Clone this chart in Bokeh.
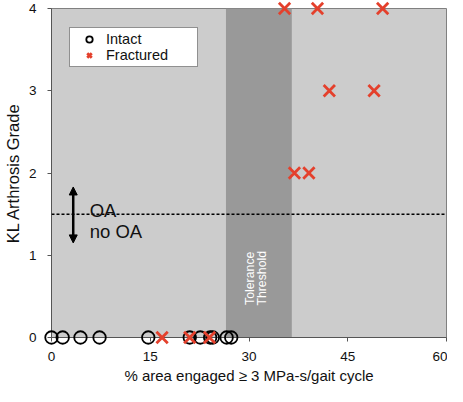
import math
from bokeh.plotting import figure
from bokeh.models import (BoxAnnotation, Span, Label, Arrow, NormalHead, Legend,
                          LegendItem, Range1d, FixedTicker)
from bokeh.embed import file_html
from bokeh.resources import INLINE

# ---- data ----
intact_x = [0, 1.7, 4.4, 7.3, 14.7, 21.0, 22.6, 24.1, 24.5, 26.6, 27.3]
intact_y = [0] * len(intact_x)
fractured_x = [16.8, 21.0, 24.0, 36.9, 39.1, 42.2, 49.0, 35.4, 40.4, 50.3]
fractured_y = [0, 0, 0, 2, 2, 3, 3, 4, 4, 4]
x_ticks = [0, 15, 30, 45, 60]
y_ticks = [0, 1, 2, 3, 4]
threshold_band = (26.5, 36.5)
oa_cutoff = 1.5

FONT = "Liberation Sans"
RED = "#e4402c"

p = figure(width=447, height=386, output_backend="svg", toolbar_location=None,
           x_range=Range1d(0, 60), y_range=Range1d(0, 4),
           min_border_left=48, min_border_right=1, min_border_top=8, min_border_bottom=0)
p.background_fill_color = "#cccccc"
p.border_fill_color = "white"
p.outline_line_color = "#808080"
p.outline_line_width = 1
p.grid.visible = False

for ax in (p.xaxis[0], p.yaxis[0]):
    ax.major_label_text_font = FONT
    ax.major_label_text_font_size = "13.5px"
    ax.major_label_text_color = "#111111"
    ax.axis_label_text_font = FONT
    ax.axis_label_text_font_style = "normal"
    ax.axis_label_text_color = "#111111"
    ax.axis_line_color = "#555555"
    ax.major_tick_line_color = "#555555"
    ax.major_tick_in = 0
    ax.major_tick_out = 4
    ax.minor_tick_line_color = None

p.xaxis.ticker = FixedTicker(ticks=x_ticks)
p.yaxis.ticker = FixedTicker(ticks=y_ticks)
p.xaxis.axis_label = "% area engaged \u2265 3 MPa-s/gait cycle"
p.yaxis.axis_label = "KL Arthrosis Grade"
p.xaxis.axis_label_text_font_size = "15px"
p.yaxis.axis_label_text_font_size = "16.5px"
p.xaxis.major_label_standoff = 10
p.yaxis.major_label_standoff = 11
p.xaxis.axis_label_standoff = 3
p.yaxis.axis_label_standoff = 4

band = BoxAnnotation(left=threshold_band[0], right=threshold_band[1],
                     fill_color="#999999", fill_alpha=1.0, line_color=None, level="underlay")
p.add_layout(band)

p.add_layout(Span(location=oa_cutoff, dimension="width", line_color="black",
                  line_dash="3 2", line_width=1.5))

p.add_layout(Arrow(x_start=3.3, y_start=1.15, x_end=3.3, y_end=1.83,
                   line_color="black", line_width=2.5,
                   end=NormalHead(size=8, fill_color="black", line_color="black"),
                   start=NormalHead(size=8, fill_color="black", line_color="black")))

p.add_layout(Label(x=5.8, y=1.55, text="OA", text_font=FONT, text_font_size="18.5px",
                   text_color="#111111", text_baseline="alphabetic"))
p.add_layout(Label(x=5.8, y=1.29, text="no OA", text_font=FONT, text_font_size="18.5px",
                   text_color="#111111", text_baseline="alphabetic"))

p.add_layout(Label(x=30.1, y=0.72, text="Tolerance",
                   angle=math.pi / 2, text_font=FONT, text_font_size="12.3px",
                   text_color="white", text_align="center", text_baseline="middle"))
p.add_layout(Label(x=31.9, y=0.72, text="Threshold",
                   angle=math.pi / 2, text_font=FONT, text_font_size="12.3px",
                   text_color="white", text_align="center", text_baseline="middle"))

r_int = p.scatter(intact_x, intact_y, marker="circle", size=12.5, fill_color=None,
                  line_color="black", line_width=1.8, level="overlay")
r_fr = p.scatter(fractured_x, fractured_y, marker="x", size=16, line_color=RED,
                 line_width=2.8, level="overlay")

legend = Legend(items=[LegendItem(label="Intact", renderers=[r_int]),
                       LegendItem(label="Fractured", renderers=[r_fr])],
                location=(18, 270), orientation="vertical",
                label_text_font=FONT, label_text_font_size="14.5px",
                label_text_color="#111111",
                background_fill_color="white", background_fill_alpha=1.0,
                border_line_color="#222222", border_line_width=1,
                padding=3, spacing=0, glyph_width=32, glyph_height=16,
                label_height=16, label_width=88, label_standoff=1, margin=0)
p.add_layout(legend)

open("out.html", "w").write(file_html(p, INLINE))
